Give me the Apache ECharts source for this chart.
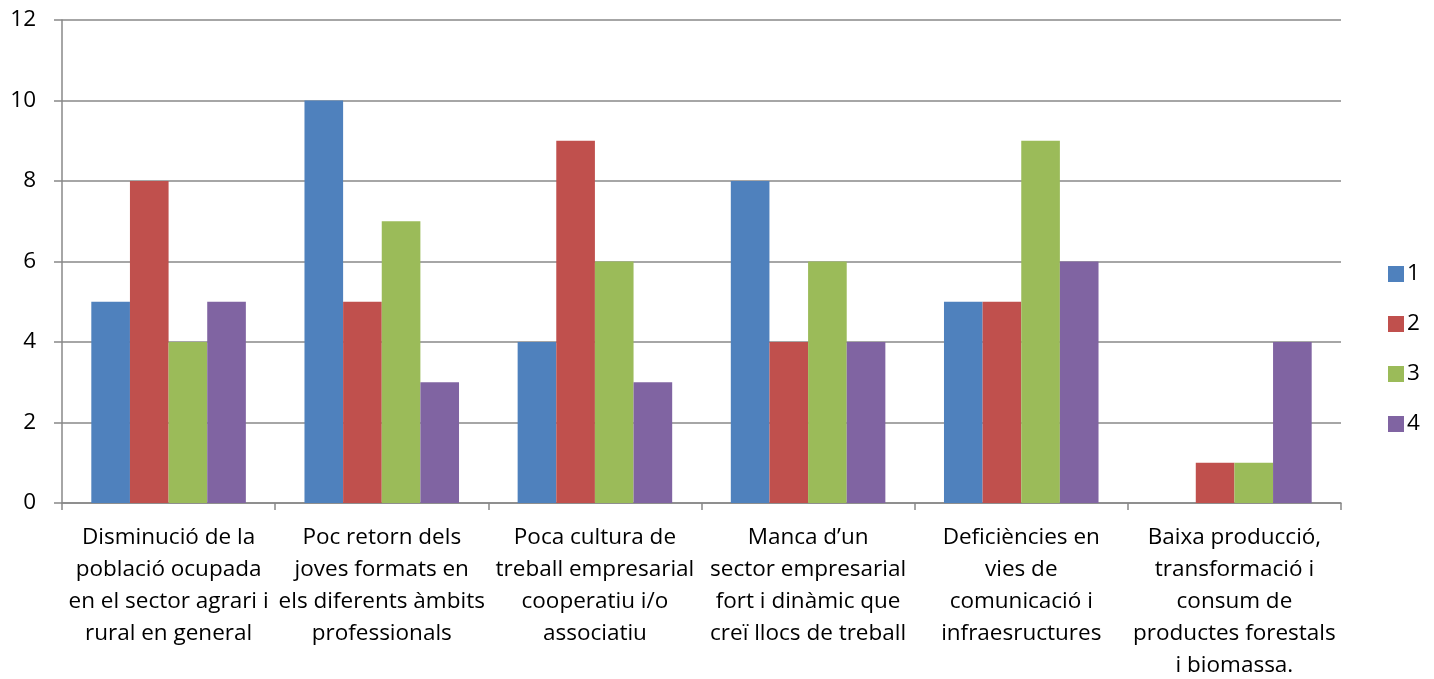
<!DOCTYPE html>
<html>
<head>
<meta charset="utf-8">
<script src="https://cdn.jsdelivr.net/npm/echarts@6/dist/echarts.min.js"></script>
<style>
html,body{margin:0;padding:0;background:#fff;}
#chart{width:1434px;height:679px;}
</style>
</head>
<body>
<div id="chart"></div>
<script>
const categories = [
  "Disminució de la\npoblació ocupada\nen el sector agrari i\nrural en general",
  "Poc retorn dels\njoves formats en\nels diferents àmbits\nprofessionals",
  "Poca cultura de\ntreball empresarial\ncooperatiu i/o\nassociatiu",
  "Manca d’un\nsector empresarial\nfort i dinàmic que\ncreï llocs de treball",
  "Deficiències en\nvies de\ncomunicació i\ninfraesructures",
  "Baixa producció,\ntransformació i\nconsum de\nproductes forestals\ni biomassa."
];
const seriesNames = ["1", "2", "3", "4"];
const values1 = [5, 10, 4, 8, 5, 0];
const values2 = [8, 5, 9, 4, 5, 1];
const values3 = [4, 7, 6, 6, 9, 1];
const values4 = [5, 3, 3, 4, 6, 4];
const colors = ["#4F81BD", "#C0504D", "#9BBB59", "#8064A2"];

const allValues = [values1, values2, values3, values4];
const font = "'Open Sans', 'Liberation Sans', sans-serif";

const chart = echarts.init(document.getElementById('chart'));
chart.setOption({
  animation: false,
  color: colors,
  textStyle: { fontFamily: font },
  grid: { left: 62, right: 93, top: 20, bottom: 176, containLabel: false, outerBoundsMode: 'none' },
  legend: {
    orient: 'vertical',
    left: 1383,
    top: 257,
    itemWidth: 16,
    itemHeight: 16,
    itemGap: 26,
    icon: 'rect',
    textStyle: { fontSize: 22.5, lineHeight: 24, color: '#000', fontFamily: font, padding: [0,0,0,-2] },
    data: seriesNames
  },
  xAxis: {
    type: 'category',
    data: categories,
    axisLine: { lineStyle: { color: '#888', width: 1.5 } },
    axisTick: { show: true, length: 7, lineStyle: { color: '#888', width: 1.5 } },
    axisLabel: {
      interval: 0,
      fontSize: 22.5,
      lineHeight: 32,
      color: '#000',
      margin: 19,
      fontFamily: font
    }
  },
  yAxis: {
    type: 'value',
    min: 0,
    max: 12,
    interval: 2,
    axisLine: { show: true, lineStyle: { color: '#888', width: 1.5 } },
    axisTick: { show: true, length: 8, lineStyle: { color: '#888', width: 1.5 } },
    splitLine: { show: true, lineStyle: { color: '#888', width: 1.5 } },
    axisLabel: { fontSize: 22.5, color: '#000', margin: 26, fontFamily: font }
  },
  series: allValues.map((v, i) => ({
    name: seriesNames[i],
    type: 'bar',
    data: v,
    barGap: '0%',
    barCategoryGap: '27.5%',
    itemStyle: { color: colors[i] }
  }))
});
</script>
</body>
</html>
